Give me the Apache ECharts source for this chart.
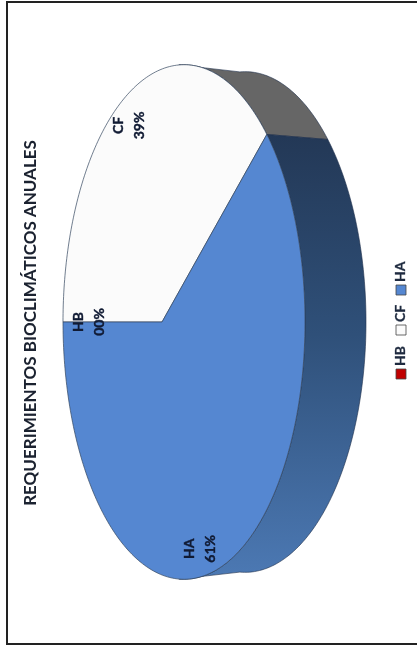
<!DOCTYPE html>
<html>
<head>
<meta charset="utf-8">
<style>
  html, body { margin: 0; padding: 0; background: #fff; }
  #chart { width: 417px; height: 646px; }
</style>
<script src="https://cdn.jsdelivr.net/npm/echarts@6/dist/echarts.min.js"></script>
</head>
<body>
<div id="chart"></div>
<script>
const categories = ['HB', 'CF', 'HA'];
const percentages = [0, 39, 61];
const percentLabels = ['00%', '39%', '61%'];
const faceColors = ['#c00000', '#fbfbfb', '#5587d1'];
const chartTitle = 'REQUERIMIENTOS BIOCLIMÁTICOS ANUALES';

// Tilted disc: a unit circle passed through a perspective projection, drawn on its side.
const DISC = { midY: 322, scale: 253, near: 162, spread: 87.55, persp: -0.1818 };
const DEPTH = { dx: 61, shrink: 0.973 };
const LABEL_REACH = [0.7, 0.87, 0.9];
const FONT = 'Lato, "Open Sans", sans-serif';
const INK = '#101a33';

function project(angle, r) {
  const x = r * Math.cos(angle), y = r * Math.sin(angle);
  const w = 1 + DISC.persp * x;
  return [(DISC.spread * x + DISC.near) / w, DISC.midY - DISC.scale * y / w];
}
function backOf(p) {
  return [p[0] + DEPTH.dx, DISC.midY + (p[1] - DISC.midY) * DEPTH.shrink];
}
function arc(from, to) {
  const n = Math.max(2, Math.ceil(Math.abs(to - from) / 0.02));
  const pts = [];
  for (let i = 0; i <= n; i++) pts.push(project(from + (to - from) * i / n, 1));
  return pts;
}

// Slices run clockwise starting from the left-hand side of the disc.
const total = percentages.reduce((a, b) => a + b, 0);
const spans = [];
let cursor = Math.PI;
percentages.forEach(v => {
  const next = cursor - v / total * Math.PI * 2;
  spans.push([cursor, next]);
  cursor = next;
});

const RIM_TOP = 1.43;   // where the rim emerges from behind the face
const RIM_BOTTOM = -1.43;

function rimPiece(from, to, fill) {
  const front = arc(from, to);
  const back = front.map(backOf).reverse();
  return {
    type: 'polygon',
    shape: { points: front.concat(back) },
    style: { fill: fill, stroke: '#1c2d4a', lineWidth: 0.6 }
  };
}

function renderSlice(params, api) {
  const i = api.value(0);
  const [from, to] = spans[i];
  const mid = (from + to) / 2;
  const children = [];

  // Side wall of the disc for the part of the slice facing the viewer.
  const a = Math.min(from, RIM_TOP), b = Math.max(to, RIM_BOTTOM);
  if (a > b) {
    const fill = i === 1 ? '#666666' : new echarts.graphic.LinearGradient(0, 0, 0, 1, [
      { offset: 0, color: '#233856' },
      { offset: 0.45, color: '#2f5079' },
      { offset: 1, color: '#4c79b4' }
    ]);
    children.push(rimPiece(a, b, fill));
  }

  const face = percentages[i] > 0 ? arc(from, to) : [project(from, 1), project(from, 1)];
  children.push({
    type: 'polygon',
    shape: { points: [[DISC.near, DISC.midY]].concat(face) },
    style: {
      fill: faceColors[i],
      stroke: i === 0 ? '#7d8ea8' : '#34465f',
      lineWidth: i === 0 ? 1.2 : 0.7
    }
  });

  const at = project(mid, LABEL_REACH[i]);
  children.push({
    type: 'text',
    x: at[0], y: at[1], rotation: Math.PI / 2,
    z2: 10,
    style: {
      text: categories[i] + '\n' + percentLabels[i],
      font: 'bold 14px ' + FONT, lineHeight: 21,
      fill: INK, stroke: INK, lineWidth: 0.4,
      align: 'center', verticalAlign: 'middle'
    }
  });
  return { type: 'group', children: children };
}

// Legend entries stacked bottom to top along the right side.
const legendSlots = [369, 325, 285];
const legendGraphics = [];
categories.forEach((name, i) => {
  legendGraphics.push({
    type: 'rect', shape: { x: 396, y: legendSlots[i], width: 10, height: 10 },
    style: { fill: faceColors[i], stroke: '#444', lineWidth: 0.8 }
  });
  legendGraphics.push({
    type: 'text', x: 400.5, y: legendSlots[i] - 3, rotation: Math.PI / 2,
    style: {
      text: name, font: 'bold 14px ' + FONT,
      fill: '#1e2a3f', stroke: '#1e2a3f', lineWidth: 0.3,
      align: 'left', verticalAlign: 'middle'
    }
  });
});

const chart = echarts.init(document.getElementById('chart'), null, { renderer: 'canvas' });
chart.setOption({
  animation: false,
  backgroundColor: '#fff',
  graphic: [
    { type: 'rect', shape: { x: 7, y: 2, width: 416, height: 642 },
      style: { fill: 'none', stroke: '#222', lineWidth: 2 } },
    { type: 'text', x: 31, y: 323, rotation: Math.PI / 2,
      style: { text: chartTitle, font: 'bold 17px ' + FONT, fill: '#1b2230', align: 'center', verticalAlign: 'middle' } }
  ].concat(legendGraphics),
  series: [{
    type: 'custom',
    coordinateSystem: 'none',
    renderItem: renderSlice,
    data: categories.map((c, i) => [i, percentages[i]])
  }]
});
</script>
</body>
</html>
